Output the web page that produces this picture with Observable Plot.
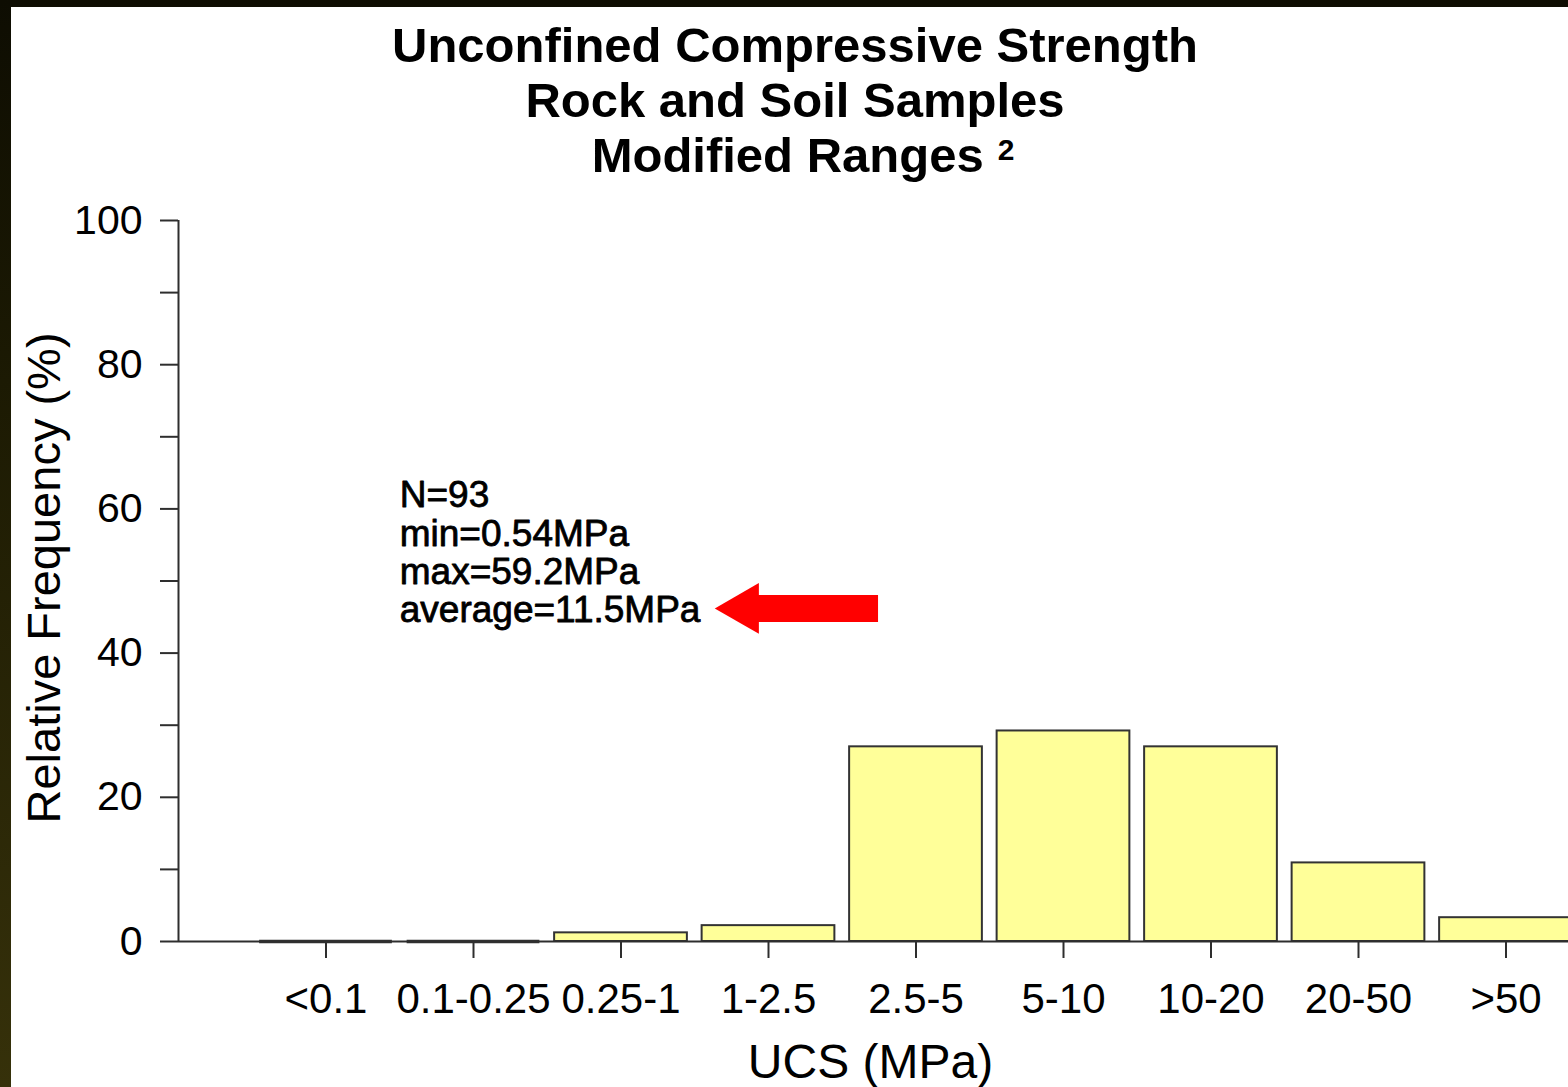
<!DOCTYPE html>
<html>
<head>
<meta charset="utf-8">
<script src="https://cdn.jsdelivr.net/npm/d3@7"></script>
<script src="https://cdn.jsdelivr.net/npm/@observablehq/plot@0.6"></script>
<style>
  html, body { margin: 0; padding: 0; width: 1568px; height: 1087px; overflow: hidden;
    background: linear-gradient(#0e0d02, #1c1a03 35%, #36310a); }
  #panel { position: absolute; left: 11px; top: 7px; width: 1557px; height: 1080px; background: #fff; }
  #title { position: absolute; left: 0; top: 17.5px; width: 1590px; text-align: center;
    font-family: "Liberation Sans", Arial, sans-serif; font-weight: bold; font-size: 49px;
    line-height: 55px; color: #000; }
  #title .l3 { position: relative; left: 8px; }
  #title sup { font-size: 30px; font-weight: bold; vertical-align: baseline; position: relative; top: -12px; margin-left: 14px; }
  #chart { position: absolute; left: 11px; top: 195px; }
</style>
</head>
<body>
<div id="panel"></div>
<div id="title">
  <div>Unconfined Compressive Strength</div>
  <div>Rock and Soil Samples</div>
  <div class="l3">Modified Ranges<sup>2</sup></div>
</div>
<div id="chart"></div>
<script>
// ---- data ----
const categories = ["<0.1", "0.1-0.25", "0.25-1", "1-2.5", "2.5-5", "5-10", "10-20", "20-50", ">50"];
const frequency = [0, 0, 1.2, 2.2, 27.0, 29.2, 27.0, 10.9, 3.3];
const yTicks = [0, 10, 20, 30, 40, 50, 60, 70, 80, 90, 100];
const yLabelTicks = [0, 20, 40, 60, 80, 100];
const xLabel = "UCS (MPa)";
const yLabel = "Relative Frequency (%)";
const statsLines = ["N=93", "min=0.54MPa", "max=59.2MPa", "average=11.5MPa"];
// annotation anchor (in chart units: x = category index, y = %)
const statsAnchor = [{x: 0.5, y: 64}];
const arrowShaft = [{y: 46.2, x1: 2.9, x2: 3.746}];
const arrowHead = [{y: 46.2, x: 2.835}];

const bars = categories.map((c, i) => ({i, c, v: frequency[i]}));
const axisColor = "#2e2e2e";

const chart = Plot.plot({
  width: 1557,
  height: 892,
  marginLeft: 167,
  marginRight: 0,
  marginTop: 25,
  marginBottom: 146,
  x: {domain: [-1, 8.4237]},
  y: {domain: [0, 100]},
  style: {fontFamily: "'Liberation Sans', Arial, sans-serif", color: "#000", background: "transparent"},
  marks: [
    Plot.rect(bars, {x1: d => d.i - 0.45, x2: d => d.i + 0.45, y1: 0, y2: "v",
      fill: "#ffff99", stroke: "#333", strokeWidth: 2, clip: true}),
    Plot.ruleY(bars.filter(d => d.v === 0), {y: d => d.v, x1: d => d.i - 0.45, x2: d => d.i + 0.45,
      stroke: "#333", strokeWidth: 3.5}),
    Plot.ruleY([0], {stroke: axisColor, strokeWidth: 2}),
    Plot.ruleX([-1], {y1: 0, y2: 100, stroke: axisColor, strokeWidth: 2}),
    Plot.axisY({ticks: yTicks, tickFormat: d => yLabelTicks.includes(d) ? String(d) : "",
      tickSize: 18, tickPadding: 18, fontSize: 41, strokeWidth: 2, stroke: axisColor, fill: "#000", label: null}),
    Plot.axisX({ticks: categories.map((_, i) => i), tickFormat: i => categories[i],
      tickSize: 17, tickPadding: 25, fontSize: 42, strokeWidth: 2, stroke: axisColor, fill: "#000", label: null}),
    Plot.text([yLabel], {text: d => d, frameAnchor: "left", textAnchor: "middle", rotate: -90, dx: -119, dy: -3,
      lineAnchor: "bottom", fontSize: 47, fill: "#000"}),
    Plot.text([xLabel], {text: d => d, frameAnchor: "bottom", dy: 136, dx: -3,
      lineAnchor: "bottom", fontSize: 48, fill: "#000"}),
    Plot.text(statsAnchor, {x: "x", y: "y", text: () => statsLines.join("\n"), textAnchor: "start",
      lineAnchor: "top", fontSize: 37, lineHeight: 1.035, fill: "#000", stroke: "#000", strokeWidth: 0.8}),
    Plot.ruleY(arrowShaft, {y: "y", x1: "x1", x2: "x2", stroke: "#ff0000", strokeWidth: 27}),
    Plot.dot(arrowHead, {x: "x", y: "y", symbol: "triangle", r: 18.9, rotate: -90, fill: "#ff0000", stroke: "none"})
  ]
});
document.getElementById("chart").appendChild(chart);
</script>
</body>
</html>
